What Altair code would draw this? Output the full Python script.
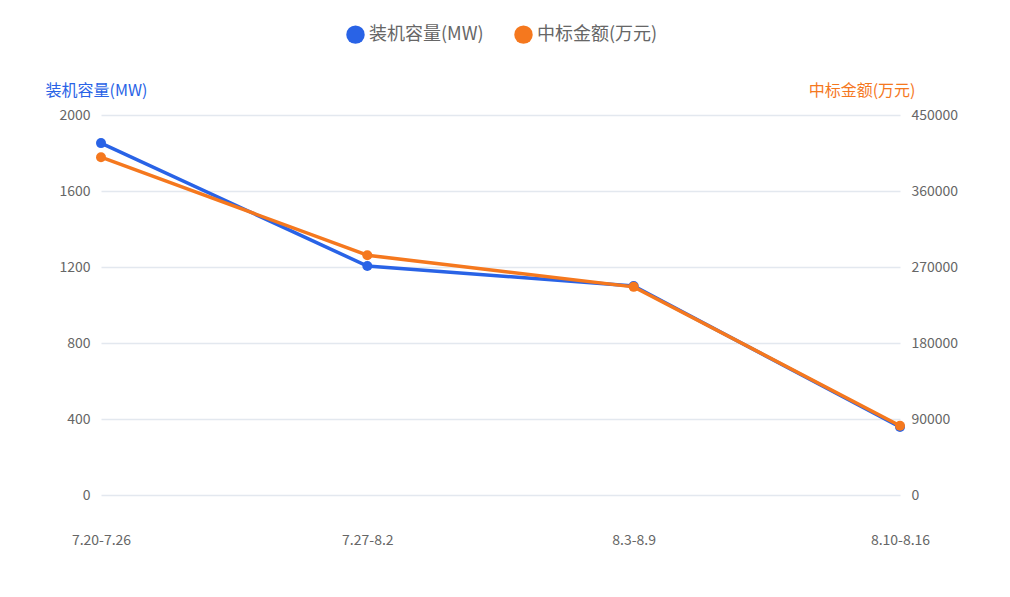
import altair as alt
import pandas as pd

periods = ["7.20-7.26", "7.27-8.2", "8.3-8.9", "8.10-8.16"]
capacity_mw = [1852, 1205, 1100, 358]
amount_wy = [400000, 284000, 246500, 82000]

s1 = "装机容量(MW)"
s2 = "中标金额(万元)"
blue = "#2963e6"
orange = "#f5781e"
font = "Noto Sans CJK SC"
gray = "#666666"

df = pd.DataFrame({"period": periods, "cap": capacity_mw, "amt": amount_wy})

xenc = alt.X("period:N", sort=periods,
             scale=alt.Scale(type="point", padding=0),
             axis=alt.Axis(title=None, labelAngle=0, domain=False, ticks=False,
                           labelPadding=38, labelFontSize=14, labelColor=gray,
                           labelFont=font, grid=False))

color = alt.Color("series:N",
                  scale=alt.Scale(domain=[s1, s2], range=[blue, orange]),
                  legend=alt.Legend(title=None, orient="none", direction="horizontal",
                                    legendX=245, legendY=-90, symbolType="circle",
                                    symbolSize=340, symbolStrokeWidth=0,
                                    labelFontSize=18, labelColor=gray, labelFont=font,
                                    columnPadding=30, symbolOpacity=1))

base = alt.Chart(df)

left = base.transform_calculate(series=f"'{s1}'").encode(
    x=xenc,
    y=alt.Y("cap:Q", scale=alt.Scale(domain=[0, 2000], nice=False),
            axis=alt.Axis(title=s1, titleAngle=0, titleAlign="left", titleBaseline="middle",
                          titleX=-56, titleY=-25, titleColor=blue, titleFontSize=16,
                          titleFontWeight="normal", titleFont=font,
                          values=[0, 400, 800, 1200, 1600, 2000], format="d",
                          domain=False, ticks=False, labelPadding=11, labelFontSize=14,
                          labelColor=gray, labelFont=font,
                          grid=True, gridColor="#e3e8ef", gridWidth=1.4)),
    color=color,
)
left_line = left.mark_line(strokeWidth=3.5)
left_pts = left.mark_point(filled=True, size=100, opacity=1)

right = base.transform_calculate(series=f"'{s2}'").encode(
    x=xenc,
    y=alt.Y("amt:Q", scale=alt.Scale(domain=[0, 450000], nice=False),
            axis=alt.Axis(orient="right", title=s2, titleAngle=0, titleAlign="right",
                          titleBaseline="middle", titleX=15, titleY=-25, titleColor=orange,
                          titleFontSize=16, titleFontWeight="normal", titleFont=font,
                          values=[0, 90000, 180000, 270000, 360000, 450000],
                          format="d", domain=False, ticks=False, labelPadding=11,
                          labelFontSize=14, labelColor=gray, labelFont=font, grid=False)),
    color=color,
)
right_line = right.mark_line(strokeWidth=3.5)
right_pts = right.mark_point(filled=True, size=100, opacity=1)

chart = alt.layer(
    alt.layer(left_line, left_pts),
    alt.layer(right_line, right_pts),
).resolve_scale(y="independent").properties(
    width=799, height=380,
    autosize=alt.AutoSizeParams(type="none"),
    padding={"left": 93, "top": 107, "right": 100, "bottom": 92},
    background="white",
).configure_view(stroke=None)

chart.save("out.html", embed_options={"renderer": "svg", "actions": False})
